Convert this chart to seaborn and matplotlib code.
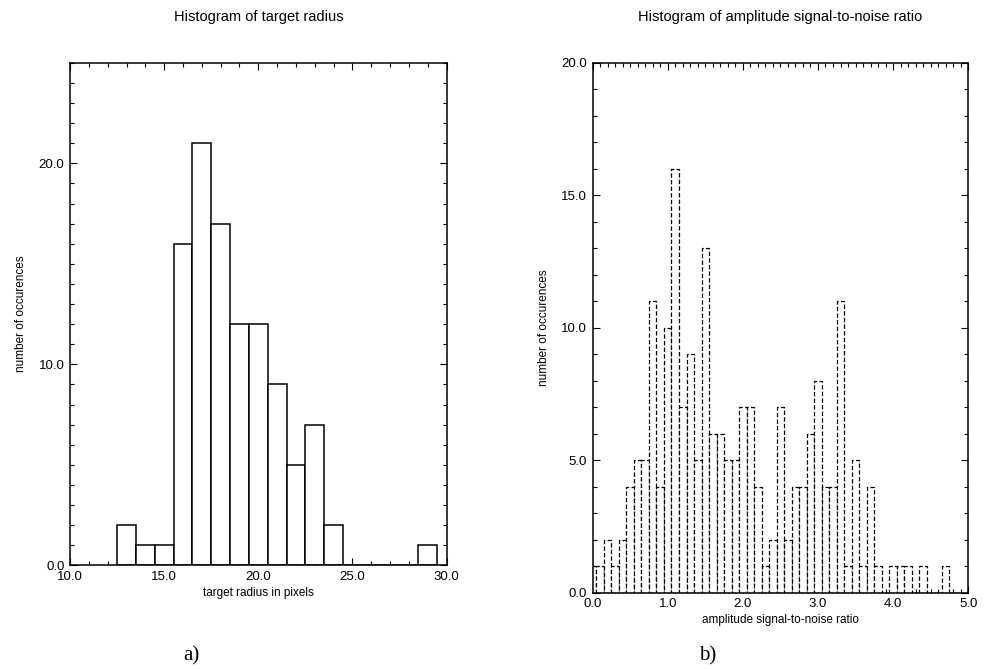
import numpy as np
import pandas as pd
import seaborn as sns
import matplotlib.pyplot as plt
from matplotlib.ticker import MultipleLocator, FormatStrFormatter

# left panel: target radius (pixels), bin centres and counts
radius_centers = [13, 14, 15, 16, 17, 18, 19, 20, 21, 22, 23, 24, 29]
radius_counts = [2, 1, 1, 16, 21, 17, 12, 12, 9, 5, 7, 2, 1]

# right panel: amplitude SNR, bins of 0.1 centred on 0.0 ... 4.9
snr_centers = np.round(np.arange(0, 50) * 0.1, 1)
snr_counts = [1, 1, 2, 1, 2, 4, 5, 5, 11, 4,
              10, 16, 7, 9, 5, 13, 6, 6, 5, 5,
              7, 7, 4, 1, 2, 7, 2, 4, 4, 6,
              8, 4, 4, 11, 1, 5, 1, 4, 1, 0,
              1, 1, 1, 0, 1, 0, 0, 1, 0, 0]

radius_df = pd.DataFrame({"radius": radius_centers, "n": radius_counts})
snr_df = pd.DataFrame({"snr": snr_centers, "n": snr_counts})

sns.set_style("ticks")
plt.rcParams['font.family'] = ['Liberation Sans', 'DejaVu Sans']
plt.rcParams['text.color'] = 'black'
plt.rcParams['axes.labelcolor'] = 'black'
plt.rcParams['xtick.color'] = 'black'
plt.rcParams['ytick.color'] = 'black'

fig = plt.figure(figsize=(9.86, 6.69), dpi=100)
ax1 = fig.add_axes([0.071, 0.155, 0.382, 0.751])
ax2 = fig.add_axes([0.601, 0.114, 0.381, 0.792])

sns.histplot(data=radius_df, x="radius", weights="n",
             bins=list(np.arange(12.5, 30.0, 1.0)), ax=ax1,
             color="white", edgecolor="black", linewidth=1.1, alpha=1)
sns.histplot(data=snr_df, x="snr", weights="n",
             bins=list(np.arange(-0.05, 5.0, 0.1)), ax=ax2,
             color="white", edgecolor="black", linewidth=0.9, alpha=1,
             linestyle=(0, (3.5, 1.8)))

ax1.set_xlim(10, 30)
ax1.set_ylim(0, 25)
ax1.xaxis.set_major_locator(MultipleLocator(5))
ax1.xaxis.set_minor_locator(MultipleLocator(1))
ax1.yaxis.set_major_locator(MultipleLocator(10))
ax1.yaxis.set_minor_locator(MultipleLocator(1))

ax2.set_xlim(0, 5)
ax2.set_ylim(0, 20)
ax2.xaxis.set_major_locator(MultipleLocator(1))
ax2.xaxis.set_minor_locator(MultipleLocator(0.1))
ax2.yaxis.set_major_locator(MultipleLocator(5))
ax2.yaxis.set_minor_locator(MultipleLocator(1))

for ax in (ax1, ax2):
    ax.xaxis.set_major_formatter(FormatStrFormatter('%.1f'))
    ax.yaxis.set_major_formatter(FormatStrFormatter('%.1f'))
    ax.tick_params(which='both', direction='in', top=True, right=True,
                   labelsize=9.5, color='black', labelcolor='black', width=0.8)
    ax.tick_params(which='major', length=5, pad=4)
    ax.tick_params(which='minor', length=3)
    for s in ax.spines.values():
        s.set_visible(True)
        s.set_linewidth(1.1)
        s.set_color('black')

ax1.set_title("Histogram of target radius", fontsize=10.5, pad=30, color='black')
ax1.set_xlabel("target radius in pixels", fontsize=8.5, labelpad=3)
ax1.set_ylabel("number of occurences", fontsize=8.5, labelpad=8)

ax2.set_title("Histogram of amplitude signal-to-noise ratio", fontsize=10.5, pad=30,
              color='black')
ax2.set_xlabel("amplitude signal-to-noise ratio", fontsize=8.5, labelpad=3)
ax2.set_ylabel("number of occurences", fontsize=8.5, labelpad=8)

fig.text(0.194, 0.019, "a)", fontsize=15, ha='center', va='center',
         family=['Liberation Serif', 'DejaVu Serif'])
fig.text(0.718, 0.019, "b)", fontsize=15, ha='center', va='center',
         family=['Liberation Serif', 'DejaVu Serif'])

fig.savefig("out.png", dpi=100)
